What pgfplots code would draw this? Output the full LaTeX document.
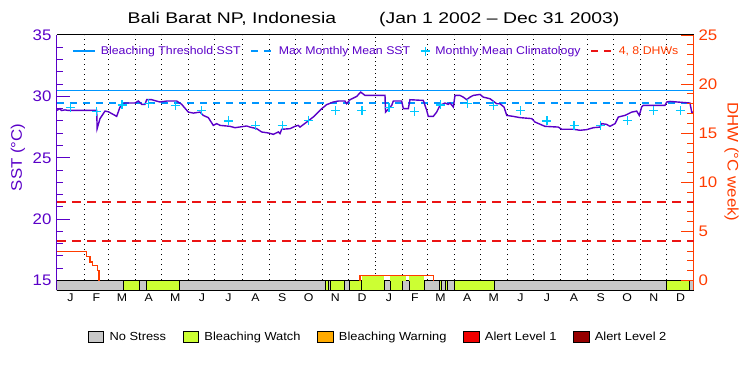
\documentclass[border=0pt]{standalone}
\usepackage{fontspec}
\setmainfont{Liberation Sans}[FakeStretch=1.1]
\newfontfamily\titlefont{Liberation Sans}[FakeStretch=1.25]
\usepackage{pgfplots}
\pgfplotsset{compat=1.18}
\definecolor{sstpurple}{RGB}{90,0,200}
\definecolor{dhwred}{RGB}{255,60,0}
\definecolor{thrblue}{RGB}{0,150,255}
\definecolor{climcyan}{RGB}{0,200,255}
\definecolor{dashred}{RGB}{235,20,20}
\definecolor{nsgray}{RGB}{200,200,200}
\definecolor{bwgreen}{RGB}{204,255,51}
\definecolor{bworange}{RGB}{255,170,0}
\definecolor{alonered}{RGB}{240,0,0}
\definecolor{altwored}{RGB}{150,0,0}
\pgfplotsset{
  lineleg/.style={legend image code/.code={\draw[##1] (0pt,0pt) -- (22pt,0pt);}},
  boxleg/.style={legend image code/.code={\draw[##1] (0pt,-5.3pt) rectangle (15.6pt,5.3pt);}},
  crossleg/.style={legend image code/.code={\draw[##1] (4.5pt,-4.5pt) -- (4.5pt,4.5pt) (0pt,0pt) -- (9pt,0pt);}},
}
\newcommand\bwseg[2]{\addplot[fill=bwgreen, draw=black, line width=0.9pt, forget plot] coordinates {(#1,14.23) (#2,14.23) (#2,15) (#1,15)} -- cycle;}
\newcommand\ovseg[2]{\addplot[fill=bwgreen, draw=none, forget plot] coordinates {(#1,0) (#2,0) (#2,0.48) (#1,0.48)} -- cycle;}
\begin{document}
\begin{tikzpicture}
\useasboundingbox (-57pt,-85pt) rectangle (693pt,290pt);
\begin{axis}[
  at={(0pt,0pt)}, anchor=south west,
  scale only axis, width=637pt, height=255pt,
  xmin=0, xmax=730, ymin=14.23, ymax=35,
  axis x line*=box, axis y line*=left,
  axis line style={-, line width=1pt},
  x axis line style={black}, y axis line style={sstpurple},
  ytick={15,20,25,30,35}, minor y tick num=4, ytick pos=left,
  tick align=inside, major tick length=13pt, minor tick length=6.5pt,
  ytick style={sstpurple, line width=1pt},
  yticklabel style={text=sstpurple, font=\fontsize{15.3}{16}\selectfont, xshift=-2pt},
  /pgf/number format/assume math mode=true,
  xtick={31,59,90,120,151,181,212,243,273,304,334,396,424,455,485,516,546,577,608,638,669,699},
  xticklabels={}, xtick style={draw=none},
  xmajorgrids, x grid style={black, line width=0.9pt, dash pattern=on 0.9pt off 4.1pt},
  extra x ticks={15.5,45,74.5,105,135.5,166,196.5,227.5,258,288.5,319,349.5,380.5,410,439.5,470,500.5,531,561.5,592.5,623,653.5,684,714.5},
  extra x tick labels={J,F,M,A,M,J,J,A,S,O,N,D,J,F,M,A,M,J,J,A,S,O,N,D},
  extra x tick style={grid=none, major tick length=0pt, tick label style={font=\fontsize{11.2}{12}\selectfont, text=black}},
  ylabel={SST (°C)},
  every axis y label/.style={at={(axis description cs:-0.0612,0.52)}, rotate=90, anchor=center, text=sstpurple, font=\fontsize{15.3}{16}\selectfont},
  title={Bali Barat NP, Indonesia\hspace{43pt}(Jan 1 2002 – Dec 31 2003)},
  title style={at={(axis description cs:0.4969,1.0235)}, anchor=base, font=\titlefont\fontsize{15.5}{16}\selectfont},
  legend style={at={(axis description cs:0.5016,0.937)}, anchor=center, draw=none, fill=none,
    font=\fontsize{11.2}{12}\selectfont,
    /tikz/every odd column/.append style={column sep=3pt},
    /tikz/every even column/.append style={column sep=8pt}},
  legend columns=-1,
]
\addlegendimage{thrblue, line width=1.2pt, lineleg}
\addlegendentry[text=sstpurple]{Bleaching Threshold SST}
\addlegendimage{thrblue, line width=1.2pt, dash pattern=on 7pt off 6pt, lineleg}
\addlegendentry[text=sstpurple]{Max Monthly Mean SST}
\addlegendimage{climcyan, line width=1.2pt, crossleg}
\addlegendentry[text=sstpurple]{Monthly Mean Climatology}
\addlegendimage{dashred, line width=1.2pt, dash pattern=on 7pt off 6pt, lineleg}
\addlegendentry[text=dhwred]{4, 8 DHWs}

\addplot[thrblue, line width=1.3pt, forget plot] coordinates {(0,30.48) (730,30.48)};
\addplot[thrblue, line width=1.3pt, dash pattern=on 7pt off 6pt, forget plot] coordinates {(0,29.45) (730,29.45)};
\addplot[only marks, mark=+, mark size=4.5pt, climcyan, line width=1.2pt, forget plot] table {
x y
15.5 29.1
45 28.8
74.5 29.3
105 29.4
135.5 29.25
166 28.83
196.5 28.0
227.5 27.62
258 27.62
288.5 28.05
319 28.83
349.5 28.83
380.5 29.1
410 28.8
439.5 29.3
470 29.4
500.5 29.25
531 28.83
561.5 28.0
592.5 27.62
623 27.62
653.5 28.05
684 28.83
714.5 28.83
};
\addplot[sstpurple, line width=1.4pt, forget plot] table {
x y
0 28.86
2 28.95
3.4 29.0
5 28.85
9.2 28.9
12.6 28.86
45.5 28.86
46 27.37
49.3 28.19
55 28.8
58.8 28.75
66.5 28.45
68.4 28.37
72.2 29.13
77.9 29.46
89.4 29.46
93.2 29.62
97.1 29.35
100.8 29.35
102.8 29.73
108.5 29.73
118 29.54
125.7 29.62
137.2 29.62
142.9 29.35
150.5 28.72
156.2 28.64
163.9 28.72
167.7 28.45
173.4 28.27
179.1 27.64
183 27.78
186.8 27.64
198.3 27.56
204 27.45
217.4 27.59
221.2 27.5
228.9 27.37
234.6 27.1
242.2 27.02
247.9 26.91
253.6 27.1
255.6 26.97
257.5 27.32
267 27.37
272.7 27.56
276.5 27.64
278.5 27.5
286.2 27.91
293.7 28.32
303.4 29.0
309.1 29.33
316.6 29.54
322.4 29.62
330 29.62
332 29.4
335.8 29.73
343.5 30.0
348 30.35
353 30.08
375.9 30.08
376.5 28.72
383.6 29.27
385.4 29.62
395 29.62
396.9 29.0
402.6 29.0
404.5 29.73
419.8 29.67
423.7 28.86
425.5 28.37
431.2 28.37
435.1 28.72
438.9 29.27
444.6 29.46
448.4 29.35
450.4 29.46
454.2 29.13
456.1 30.08
461.8 30.08
465.6 29.94
469.5 29.73
473.3 29.94
477.1 30.08
484.8 30.16
488.5 29.94
496.2 29.81
503.9 29.4
507.7 29.4
512.3 29.13
515.4 28.45
522.9 28.37
530.6 28.27
544 28.19
547.8 27.91
559.2 27.56
574.5 27.5
578.4 27.32
591.7 27.32
599.4 27.24
607 27.29
614.7 27.45
622.3 27.5
624.2 27.78
629.9 27.72
633.7 27.56
639.5 27.78
643.3 28.32
650.9 28.45
658.6 28.72
664.3 28.8
667.3 28.45
670 29.13
671.9 29.27
696.8 29.27
698.7 29.54
702.5 29.59
725.4 29.46
727.4 28.72
730 28.7
};
\addplot[black, line width=1.4pt, dash pattern=on 1.4pt off 2.6pt, forget plot] coordinates {(365,14.23) (365,35)};
% status bar
\addplot[fill=nsgray, draw=black, line width=1pt, forget plot] coordinates {(0,14.23) (730,14.23) (730,15) (0,15)} -- cycle;
\bwseg{76}{94.3}
\bwseg{102.8}{140.2}
\bwseg{307.5}{311.3}
\bwseg{313.4}{329.2}
\bwseg{335}{348.4}
\bwseg{348.4}{375.1}
\bwseg{381.6}{396.2}
\bwseg{403.4}{420.9}
\bwseg{437.8}{440.4}
\bwseg{445}{447.7}
\bwseg{455.3}{501.2}
\bwseg{698.7}{724.6}
\node[font=\fontsize{13}{14}\selectfont, anchor=center] at (axis cs:182.5,14.23) [yshift=-25pt] {2002};
\node[font=\fontsize{13}{14}\selectfont, anchor=center] at (axis cs:547.5,14.23) [yshift=-25pt] {2003};
\end{axis}

\begin{axis}[
  at={(0pt,0pt)}, anchor=south west,
  scale only axis, width=637pt, height=255pt,
  xmin=0, xmax=730, ymin=-0.9625, ymax=25,
  axis x line=none, axis y line*=right, xtick=\empty,
  axis line style={-, line width=1pt}, y axis line style={dhwred},
  ytick={0,5,10,15,20,25}, minor y tick num=4, ytick pos=right, yticklabel pos=right,
  tick align=inside, major tick length=13pt, minor tick length=6.5pt,
  ytick style={dhwred, line width=1pt},
  yticklabel style={text=dhwred, font=\fontsize{15.3}{16}\selectfont, anchor=west, xshift=1pt},
  /pgf/number format/assume math mode=true,
  ylabel={DHW (°C week)},
  every axis y label/.style={at={(axis description cs:1.0589,0.502)}, rotate=-90, anchor=center, text=dhwred, font=\fontsize{15.3}{16}\selectfont},
  legend style={at={(axis description cs:0.504,-0.183)}, anchor=center, draw=none, fill=none,
    font=\fontsize{11.7}{12}\selectfont,
    /tikz/every odd column/.append style={column sep=3.5pt},
    /tikz/every even column/.append style={column sep=14.5pt}},
  legend columns=-1,
]
\addlegendimage{fill=nsgray, draw=black, line width=0.8pt, boxleg}
\addlegendentry{No Stress}
\addlegendimage{fill=bwgreen, draw=black, line width=0.8pt, boxleg}
\addlegendentry{Bleaching Watch}
\addlegendimage{fill=bworange, draw=black, line width=0.8pt, boxleg}
\addlegendentry{Bleaching Warning}
\addlegendimage{fill=alonered, draw=black, line width=0.8pt, boxleg}
\addlegendentry{Alert Level 1}
\addlegendimage{fill=altwored, draw=black, line width=0.8pt, boxleg}
\addlegendentry{Alert Level 2}

\addplot[dashred, line width=1.6pt, dash pattern=on 9pt off 6pt, forget plot] coordinates {(0,4) (730,4)};
\addplot[dashred, line width=1.6pt, dash pattern=on 9pt off 6pt, forget plot] coordinates {(0,8) (730,8)};
\ovseg{349.2}{374.5}
\ovseg{381.6}{399.6}
\ovseg{403.7}{420.9}
\addplot[dhwred, line width=1.3pt, forget plot] coordinates {(347.2,0) (347.2,0.48) (431.2,0.48) (431.2,0)};
\addplot[dhwred, line width=1.3pt, forget plot] coordinates {(0,2.93) (34,2.93) (34,2.45) (37.8,2.45) (37.8,1.9) (40.5,1.9) (40.5,1.5) (46.6,1.5) (46.6,1.02) (48.1,1.02) (48.1,0)};
\end{axis}
\end{tikzpicture}
\end{document}
